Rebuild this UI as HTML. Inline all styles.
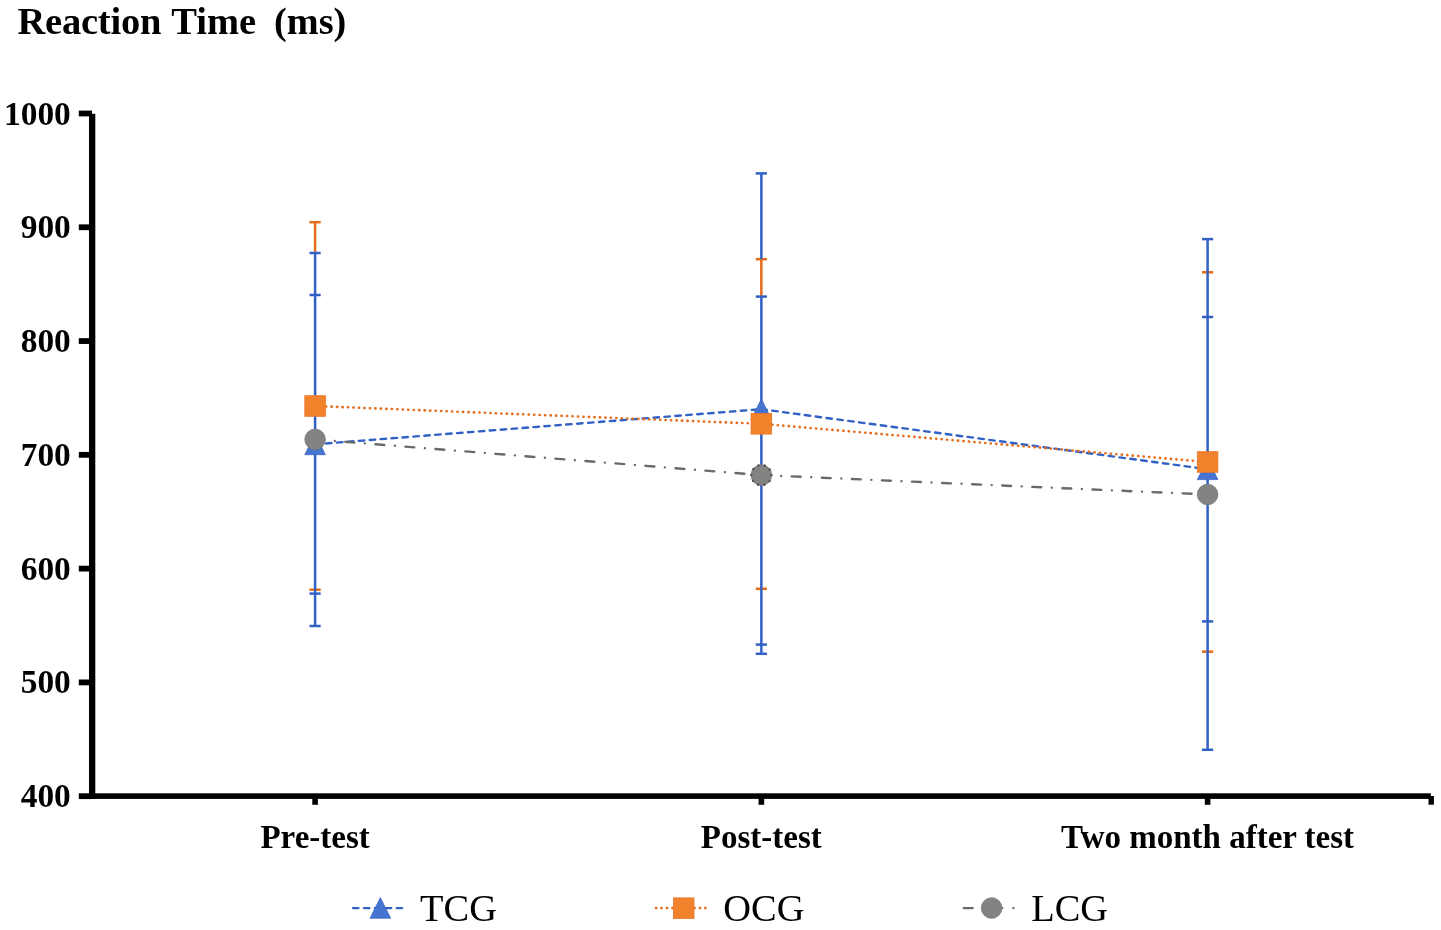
<!DOCTYPE html><html><head><meta charset="utf-8"><style>html,body{margin:0;padding:0;background:#fff;width:1441px;height:930px;overflow:hidden}svg{display:block;will-change:transform}text{font-family:"Liberation Serif",serif}</style></head><body>
<svg width="1441" height="930" viewBox="0 0 1441 930">
<rect width="1441" height="930" fill="#fff"/>
<text x="17.4" y="34.4" font-size="38.5" font-weight="bold" letter-spacing="-0.2" fill="#000">Reaction</text>
<text x="171.3" y="34.4" font-size="38.5" font-weight="bold" fill="#000">Time</text>
<text x="274" y="34.4" font-size="38.3" font-weight="bold" fill="#000">(ms)</text>
<rect x="89" y="113.80" width="6.3" height="685.10" fill="#000"/>
<rect x="89" y="793.3" width="1341.9" height="5.6" fill="#000"/>
<rect x="78.8" y="110.60" width="13.2" height="5.8" fill="#000"/>
<text x="70.8" y="124.54" font-size="33.4" font-weight="bold" text-anchor="end" fill="#000">1000</text>
<rect x="78.8" y="224.38" width="13.2" height="5.8" fill="#000"/>
<text x="70.8" y="238.32" font-size="33.4" font-weight="bold" text-anchor="end" fill="#000">900</text>
<rect x="78.8" y="338.16" width="13.2" height="5.8" fill="#000"/>
<text x="70.8" y="352.10" font-size="33.4" font-weight="bold" text-anchor="end" fill="#000">800</text>
<rect x="78.8" y="451.94" width="13.2" height="5.8" fill="#000"/>
<text x="70.8" y="465.88" font-size="33.4" font-weight="bold" text-anchor="end" fill="#000">700</text>
<rect x="78.8" y="565.72" width="13.2" height="5.8" fill="#000"/>
<text x="70.8" y="579.66" font-size="33.4" font-weight="bold" text-anchor="end" fill="#000">600</text>
<rect x="78.8" y="679.50" width="13.2" height="5.8" fill="#000"/>
<text x="70.8" y="693.44" font-size="33.4" font-weight="bold" text-anchor="end" fill="#000">500</text>
<rect x="78.8" y="793.28" width="13.2" height="5.8" fill="#000"/>
<text x="70.8" y="807.22" font-size="33.4" font-weight="bold" text-anchor="end" fill="#000">400</text>
<rect x="312.30" y="796" width="5.6" height="8.8" fill="#000"/>
<rect x="758.55" y="796" width="5.6" height="8.8" fill="#000"/>
<rect x="1204.80" y="796" width="5.6" height="8.8" fill="#000"/>
<rect x="1428.5" y="796" width="5.4" height="8.7" fill="#000"/>
<text x="315.10" y="848.0" font-size="33" font-weight="bold" text-anchor="middle" fill="#000">Pre-test</text>
<text x="761.35" y="848.0" font-size="33" font-weight="bold" text-anchor="middle" fill="#000">Post-test</text>
<text x="1207.60" y="848.0" font-size="33" font-weight="bold" text-anchor="middle" fill="#000">Two month after test</text>
<rect x="309.50" y="293.75" width="11.20" height="2.50" fill="#3261C6"/>
<rect x="309.50" y="592.35" width="11.20" height="2.50" fill="#3261C6"/>
<rect x="309.50" y="220.95" width="11.20" height="2.50" fill="#E56C1A"/>
<rect x="309.50" y="588.45" width="11.20" height="2.50" fill="#E56C1A"/>
<rect x="313.85" y="221.80" width="2.50" height="31.60" fill="#E56C1A"/>
<rect x="313.85" y="253.00" width="2.50" height="373.00" fill="#3261C6"/>
<rect x="309.50" y="251.75" width="11.20" height="2.50" fill="#3261C6"/>
<rect x="309.50" y="624.75" width="11.20" height="2.50" fill="#3261C6"/>
<rect x="755.75" y="172.15" width="11.20" height="2.50" fill="#3261C6"/>
<rect x="755.75" y="643.35" width="11.20" height="2.50" fill="#3261C6"/>
<rect x="755.75" y="257.95" width="11.20" height="2.50" fill="#E56C1A"/>
<rect x="755.75" y="587.55" width="11.20" height="2.50" fill="#E56C1A"/>
<rect x="760.10" y="258.80" width="2.50" height="38.20" fill="#E56C1A"/>
<rect x="760.10" y="173.40" width="2.50" height="85.80" fill="#3261C6"/>
<rect x="760.10" y="296.60" width="2.50" height="357.20" fill="#3261C6"/>
<rect x="755.75" y="295.35" width="11.20" height="2.50" fill="#3261C6"/>
<rect x="755.75" y="652.55" width="11.20" height="2.50" fill="#3261C6"/>
<rect x="1202.00" y="315.75" width="11.20" height="2.50" fill="#3261C6"/>
<rect x="1202.00" y="620.15" width="11.20" height="2.50" fill="#3261C6"/>
<rect x="1202.00" y="271.05" width="11.20" height="2.50" fill="#E56C1A"/>
<rect x="1202.00" y="650.45" width="11.20" height="2.50" fill="#E56C1A"/>
<rect x="1206.35" y="239.10" width="2.50" height="510.70" fill="#3261C6"/>
<rect x="1202.00" y="237.85" width="11.20" height="2.50" fill="#3261C6"/>
<rect x="1202.00" y="748.55" width="11.20" height="2.50" fill="#3261C6"/>
<line x1="315.10" y1="444.30" x2="761.35" y2="409.20" stroke="#3261C6" stroke-width="2.40" stroke-dasharray="5.5 5.45" stroke-dashoffset="0.00" stroke-linecap="round"/>
<line x1="761.35" y1="409.20" x2="1207.60" y2="469.20" stroke="#3261C6" stroke-width="2.40" stroke-dasharray="5.5 5.45" stroke-dashoffset="0.00" stroke-linecap="round"/>
<line x1="315.10" y1="406.00" x2="761.35" y2="423.80" stroke="#E56C1A" stroke-width="2.60" stroke-dasharray="0.2 5.28" stroke-dashoffset="0.00" stroke-linecap="round"/>
<line x1="761.35" y1="423.80" x2="1207.60" y2="462.00" stroke="#E56C1A" stroke-width="2.60" stroke-dasharray="0.2 5.28" stroke-dashoffset="0.00" stroke-linecap="round"/>
<line x1="315.10" y1="439.40" x2="761.35" y2="475.10" stroke="#6A6A6A" stroke-width="2.40" stroke-dasharray="8.9 10.6 0.01 10.59" stroke-dashoffset="-0.30" stroke-linecap="round"/>
<line x1="761.35" y1="475.10" x2="1207.60" y2="494.50" stroke="#6A6A6A" stroke-width="2.40" stroke-dasharray="8.9 10.6 0.01 10.59" stroke-dashoffset="-0.30" stroke-linecap="round"/>
<polygon points="315.10,434.10 325.40,454.70 304.80,454.70" fill="#4674D2" stroke="#3A66C4" stroke-width="0.8" stroke-linejoin="miter"/>
<polygon points="761.35,399.00 771.65,419.60 751.05,419.60" fill="#4674D2" stroke="#3A66C4" stroke-width="0.8" stroke-linejoin="miter"/>
<polygon points="1207.60,459.00 1217.90,479.60 1197.30,479.60" fill="#4674D2" stroke="#3A66C4" stroke-width="0.8" stroke-linejoin="miter"/>
<rect x="304.80" y="395.70" width="20.60" height="20.60" fill="#F2822B" stroke="#E8762A" stroke-width="0.8"/>
<rect x="751.05" y="413.50" width="20.60" height="20.60" fill="#F2822B" stroke="#E8762A" stroke-width="0.8"/>
<rect x="1197.30" y="451.70" width="20.60" height="20.60" fill="#F2822B" stroke="#E8762A" stroke-width="0.8"/>
<circle cx="315.10" cy="439.40" r="10.30" fill="#838383" stroke="#777777" stroke-width="0.8"/>
<circle cx="761.35" cy="475.10" r="10.30" fill="#838383" stroke="#777777" stroke-width="0.8"/>
<circle cx="1207.60" cy="494.50" r="10.30" fill="#838383" stroke="#777777" stroke-width="0.8"/>
<circle cx="761.35" cy="475.10" r="10.1" fill="none" stroke="#4e4e4e" stroke-width="2.4" stroke-dasharray="0.01 6.336" stroke-linecap="round"/>
<line x1="353" y1="908.1" x2="402.3" y2="908.1" stroke="#3261C6" stroke-width="2.3" stroke-dasharray="5.5 5.43" stroke-linecap="round"/>
<polygon points="380.35,897.60 390.65,918.20 370.05,918.20" fill="#4674D2" stroke="#3A66C4" stroke-width="0.8" stroke-linejoin="miter"/>
<text x="420.1" y="921.2" font-size="38.4" fill="#000">TCG</text>
<line x1="656" y1="908.1" x2="707.5" y2="908.1" stroke="#E56C1A" stroke-width="2.6" stroke-dasharray="0.2 5.28" stroke-linecap="round"/>
<rect x="673.40" y="897.90" width="20.60" height="20.60" fill="#F2822B" stroke="#E8762A" stroke-width="0.8"/>
<text x="723.3" y="921.2" font-size="38.4" fill="#000">OCG</text>
<path d="M963.8 908.1H972.6M1001.2 908.1H1002.2M1013.4 908.1H1013.41" stroke="#6A6A6A" stroke-width="2.4" stroke-linecap="round" fill="none"/>
<circle cx="991.60" cy="908.00" r="10.30" fill="#838383" stroke="#777777" stroke-width="0.8"/>
<text x="1031.3" y="921.2" font-size="38.4" fill="#000">LCG</text>
</svg></body></html>
